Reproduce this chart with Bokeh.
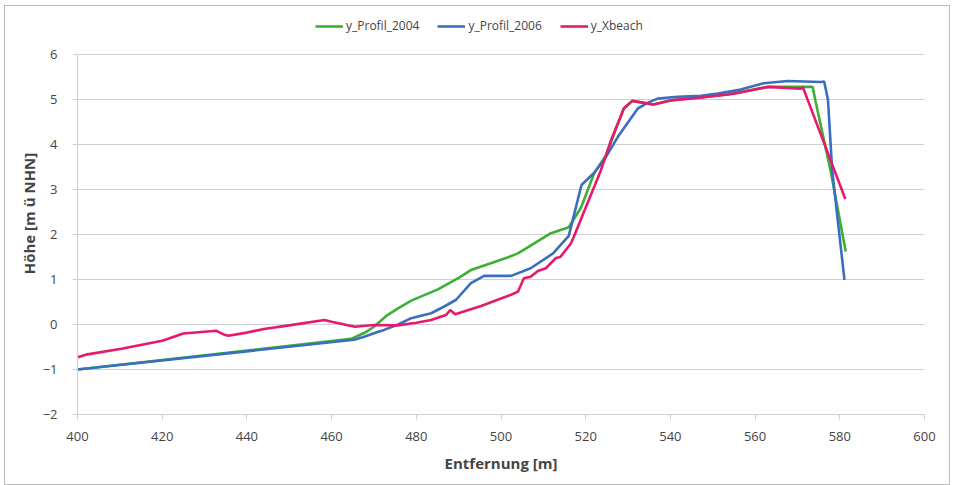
from bokeh.plotting import figure
from bokeh.models import Legend, LegendItem, FixedTicker, Range1d
from bokeh.embed import file_html
from bokeh.resources import INLINE

# Data
x_2006 = [400, 465.3, 467.7, 471.0, 472.4, 475.7, 478.8, 483.5, 486.6, 489.4, 492.9, 496.0,
          502.4, 507.0, 512.3, 516.0, 519.0, 521.9, 524.3, 527.6, 532.3, 534.7, 537.0,
          541.7, 547.2, 551.2, 556.6, 562.0, 567.7, 575.5, 576.3, 577.2, 578.2, 581.1]
y_2006 = [-1.0, -0.34, -0.27, -0.16, -0.12, 0.0, 0.14, 0.25, 0.4, 0.55, 0.92, 1.08,
          1.08, 1.25, 1.58, 1.97, 3.1, 3.36, 3.65, 4.17, 4.8, 4.93, 5.02,
          5.06, 5.08, 5.13, 5.22, 5.36, 5.41, 5.39, 5.40, 5.0, 3.43, 0.99]

x_2004 = [400, 464.6, 467.7, 470.0, 472.9, 475.7, 478.8, 485.1, 489.9, 492.9, 497.6,
          502.4, 504.0, 511.8, 516.0, 518.9, 522.0, 524.8, 529.0, 531.0, 536.0,
          540.0, 553.5, 563.0, 571.5, 573.6, 574.3, 577.8, 581.4]
y_2004 = [-1.0, -0.32, -0.19, -0.05, 0.19, 0.36, 0.53, 0.78, 1.03, 1.21, 1.36,
          1.52, 1.58, 2.03, 2.16, 2.6, 3.36, 3.76, 4.8, 4.97, 4.89,
          4.98, 5.11, 5.28, 5.28, 5.28, 4.95, 3.43, 1.62]

x_xbeach = [400, 402, 410.4, 420, 425, 432.8, 434.5, 435.6, 440, 444, 450, 458.3, 460,
            465.5, 470, 475.7, 480, 483.5, 487, 488, 489.2, 495.3, 502.4, 504.0,
            505.4, 507.0, 508.7, 510.6, 513.0, 514.0, 516.5, 517.2, 523.6, 526.0,
            529.0, 531.0, 536.0, 540.0, 547.0, 553.5, 555.0, 563.0, 570.8, 571.3, 581.3]
y_xbeach = [-0.73, -0.67, -0.54, -0.36, -0.2, -0.14, -0.22, -0.25, -0.18, -0.1, -0.02, 0.1, 0.06,
            -0.05, -0.01, -0.02, 0.04, 0.1, 0.21, 0.32, 0.23, 0.41, 0.66, 0.73,
            1.03, 1.06, 1.19, 1.25, 1.48, 1.5, 1.8, 1.95, 3.43, 4.1,
            4.8, 4.97, 4.89, 4.98, 5.04, 5.11, 5.13, 5.28, 5.24, 5.27, 2.79]

series_names = ["y_Profil_2004", "y_Profil_2006", "y_Xbeach"]
colors = ["#3CB034", "#3A6EBF", "#E8186D"]
x_ticks = [400, 420, 440, 460, 480, 500, 520, 540, 560, 580, 600]
y_ticks = [-2, -1, 0, 1, 2, 3, 4, 5, 6]

FONT = "Open Sans"
TXT = "#454545"

# frame spans 402 px tall; y data -2..6 uses 360 px, the rest holds the legend
p = figure(width=946, height=480, output_backend="svg", toolbar_location=None,
           x_range=Range1d(400, 600), y_range=Range1d(-2, -2 + 402 / 45.0),
           min_border_left=72, min_border_right=27, min_border_top=6, min_border_bottom=72)
p.margin = (5, 0, 0, 4)
p.styles = {"border": "1px solid #bcbcbc"}

p.outline_line_color = None
p.background_fill_color = "white"
p.border_fill_color = "white"

r1 = p.line(x_2004, y_2004, line_color=colors[0], line_width=2.6)
r2 = p.line(x_2006, y_2006, line_color=colors[1], line_width=2.6)
r3 = p.line(x_xbeach, y_xbeach, line_color=colors[2], line_width=2.6)

p.xgrid.grid_line_color = None
p.ygrid.grid_line_color = "#d0d0d0"
p.ygrid.grid_line_width = 1.2
p.xaxis.ticker = FixedTicker(ticks=x_ticks)
p.yaxis.ticker = FixedTicker(ticks=y_ticks)
p.yaxis.bounds = (-2, 6)

for ax in (p.xaxis[0], p.yaxis[0]):
    ax.axis_line_color = "#d0d0d0"
    ax.axis_line_width = 1.2
    ax.major_tick_line_color = "#d0d0d0"
    ax.major_tick_in = 0
    ax.major_tick_out = 5
    ax.minor_tick_line_color = None
    ax.major_label_text_font = FONT
    ax.major_label_text_font_size = "13px"
    ax.major_label_text_color = TXT
    ax.axis_label_text_font = FONT
    ax.axis_label_text_font_style = "bold"
    ax.axis_label_text_font_size = "15px"
    ax.axis_label_text_color = TXT

p.xaxis.axis_label = "Entfernung [m]"
p.yaxis.axis_label = "Höhe [m ü NHN]"
p.xaxis.major_label_standoff = 12
p.yaxis.major_label_standoff = 15
p.xaxis.axis_label_standoff = 9
p.yaxis.axis_label_standoff = 1

legend = Legend(items=[LegendItem(label=series_names[0], renderers=[r1]),
                       LegendItem(label=series_names[1], renderers=[r2]),
                       LegendItem(label=series_names[2], renderers=[r3])],
                orientation="horizontal", location=(238, 380),
                label_text_font=FONT, label_text_font_size="12px", label_text_color=TXT,
                glyph_width=28, glyph_height=10, spacing=18, label_standoff=3,
                border_line_color=None, background_fill_alpha=0, margin=0, padding=4)
p.add_layout(legend, "center")

html = file_html(p, INLINE)
open("out.html", "w").write(html)
